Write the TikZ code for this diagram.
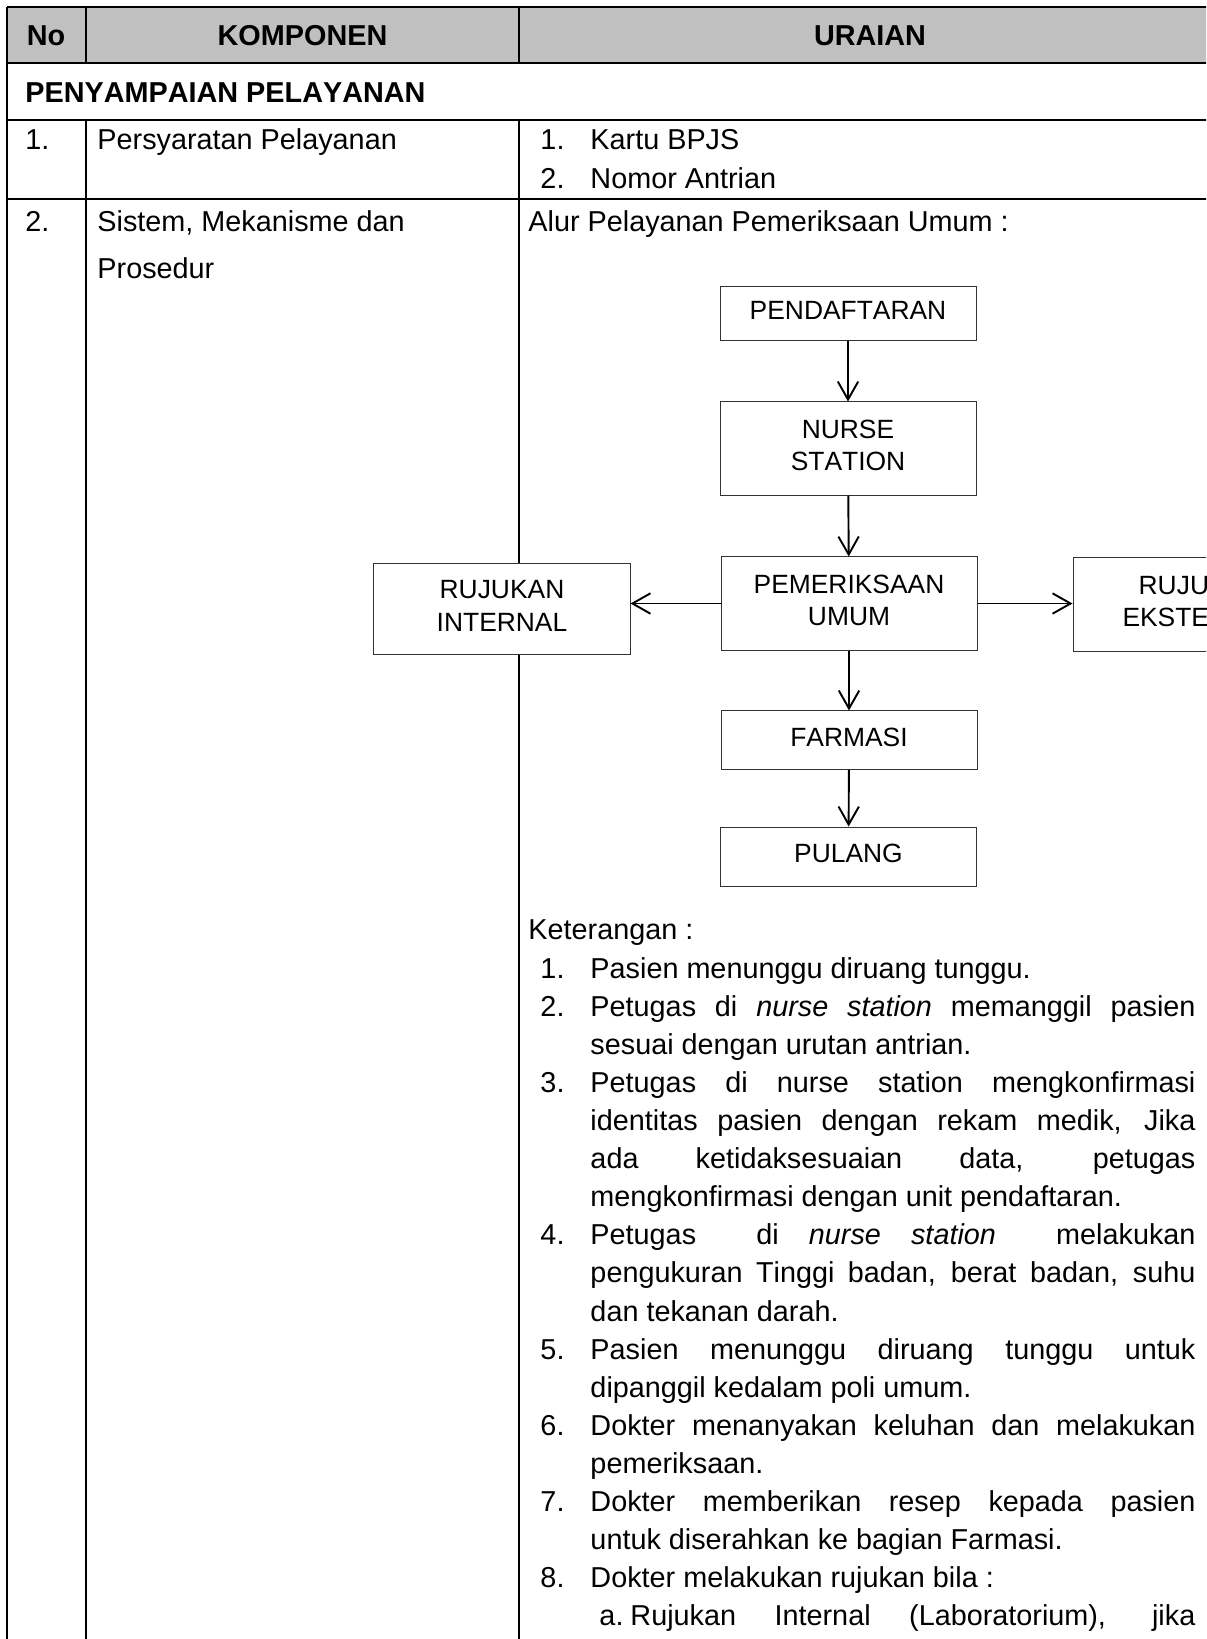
\documentclass[tikz,border=0pt]{standalone}
\usepackage{fontspec}
\setmainfont{Liberation Sans}[Kerning=Off]
\usetikzlibrary{arrows.meta}
\definecolor{hdrgray}{RGB}{192,192,192}
\newcommand{\jline}[2]{\makebox[#1][s]{#2}}
\hbadness=10000

\begin{document}
\begin{tikzpicture}[x=0.4167pt,y=0.4167pt,yscale=-1,xscale=1,
    txt/.style={anchor=base west,inner sep=0pt,font=\fontsize{12}{14}\selectfont},
    hdr/.style={anchor=base,inner sep=0pt,font=\fontsize{12}{14}\selectfont\bfseries},
    flowbox/.style={draw=black!80,line width=0.4pt,fill=white,align=center,inner sep=0pt,
      text depth=2.6pt,minimum width=106.7pt,font=\fontsize{11}{13.5}\selectfont},
    arr/.style={line width=0.8pt,-{Straight Barb[length=7.5pt,width=8.5pt]}},
    tabline/.style={line width=0.8pt}]
    \useasboundingbox (0,0) rectangle (1206,1639);
    \clip (0,0) rectangle (1206,1639);

    %Shape: Rectangle [header fill]
    \fill[hdrgray] (7,7) rectangle (1230,63);
    %Straight Lines [table rows]
    \draw[tabline] (7,7) -- (1230,7);
    \draw[tabline] (7,63) -- (1230,63);
    \draw[tabline] (7,120) -- (1230,120);
    \draw[tabline] (7,199) -- (1230,199);
    %Straight Lines [table columns]
    \draw[tabline] (7,7) -- (7,1650);
    \draw[tabline] (86,7) -- (86,63);
    \draw[tabline] (86,120) -- (86,1650);
    \draw[tabline] (519,7) -- (519,63);
    \draw[tabline] (519,120) -- (519,1650);

    % Text Node
    \node[hdr] (hno) at (46,46) {No};
    % Text Node
    \node[hdr] (hkomp) at (302.5,46) {KOMPONEN};
    % Text Node
    \node[hdr] (huraian) at (870,46) {URAIAN};
    % Text Node
    \node[txt,font=\fontsize{12}{14}\selectfont\bfseries] (sec) at (25,103) {PENYAMPAIAN PELAYANAN};

    % Text Node
    \node[txt] (ronea) at (25,150) {1.};
    % Text Node
    \node[txt] (roneb) at (97,150) {Persyaratan Pelayanan};
    % Text Node
    \node[txt] (ronec) at (540,150) {1.};
    % Text Node
    \node[txt] (roned) at (590,150) {Kartu BPJS};
    % Text Node
    \node[txt] (ronee) at (540,189) {2.};
    % Text Node
    \node[txt] (ronef) at (590,189) {Nomor Antrian};

    % Text Node
    \node[txt] (rtwoa) at (25,232) {2.};
    % Text Node
    \node[txt] (rtwob) at (97,232) {Sistem, Mekanisme dan};
    % Text Node
    \node[txt] (rtwoc) at (97,279) {Prosedur};
    % Text Node
    \node[txt] (rtwod) at (528,232) {Alur Pelayanan Pemeriksaan Umum :};

    %Flowchart boxes
    \node[flowbox,minimum height=22.9pt] (pend) at (848,313.5) {PENDAFTARAN};
    \node[flowbox,minimum height=38.8pt] (nurse) at (848,448.5) {NURSE\\STATION};
    \node[flowbox,minimum height=38.8pt] (pem) at (849,603.5) {PEMERIKSAAN\\UMUM};
    \node[flowbox,minimum height=24.2pt] (farm) at (849,740) {FARMASI};
    \node[flowbox,minimum height=24.6pt] (plg) at (848.5,856.5) {PULANG};
    \node[flowbox,minimum height=38.3pt] (rint) at (502,609) {RUJUKAN\\INTERNAL};
    \node[flowbox,minimum height=38.8pt] (reks) at (1201,604.5) {RUJUKAN\\EKSTERNAL};

    %Straight Lines [arrows]
    \draw[arr] (pend) -- (nurse);
    \draw[arr] (nurse) -- (pem);
    \draw[arr] (pem) -- (farm);
    \draw[arr] (farm) -- (plg);
    \draw[arr] (pem.west) -- (pem.west -| rint.east);
    \draw[arr] (pem.east) -- (pem.east -| reks.west);

    % Text Node
    \node[txt] (ket) at (528,939) {Keterangan :};
    % Text Node
    \node[txt] (na) at (540,978.1) {1.};
    \node[txt] (la) at (590,978.1) {Pasien menunggu diruang tunggu.};
    % Text Node
    \node[txt] (nb) at (540,1016.2) {2.};
    \node[txt] (lb) at (590,1016.2) {\jline{252.1pt}{Petugas di \textit{nurse station} memanggil pasien}};
    \node[txt] (lbb) at (590,1054.3) {sesuai dengan urutan antrian.};
    % Text Node
    \node[txt] (nc) at (540,1092.4) {3.};
    \node[txt] (lc) at (590,1092.4) {\jline{252.1pt}{Petugas di nurse station mengkonfirmasi}};
    \node[txt] (lcb) at (590,1130.5) {\jline{252.1pt}{identitas pasien dengan rekam medik, Jika}};
    \node[txt] (lcc) at (590,1168.6) {\jline{252.1pt}{ada ketidaksesuaian data, petugas}};
    \node[txt] (lcd) at (590,1206.7) {mengkonfirmasi dengan unit pendaftaran.};
    % Text Node
    \node[txt] (nd) at (540,1244.8) {4.};
    \node[txt] (ld) at (590,1244.8) {\jline{252.1pt}{Petugas\ \ di \textit{nurse station}\ \ melakukan}};
    \node[txt] (ldb) at (590,1282.9) {\jline{252.1pt}{pengukuran Tinggi badan, berat badan, suhu}};
    \node[txt] (ldc) at (590,1321) {dan tekanan darah.};
    % Text Node
    \node[txt] (ne) at (540,1359.1) {5.};
    \node[txt] (le) at (590,1359.1) {\jline{252.1pt}{Pasien menunggu diruang tunggu untuk}};
    \node[txt] (leb) at (590,1397.2) {dipanggil kedalam poli umum.};
    % Text Node
    \node[txt] (nf) at (540,1435.3) {6.};
    \node[txt] (lf) at (590,1435.3) {\jline{252.1pt}{Dokter menanyakan keluhan dan melakukan}};
    \node[txt] (lfb) at (590,1473.4) {pemeriksaan.};
    % Text Node
    \node[txt] (ng) at (540,1511.5) {7.};
    \node[txt] (lg) at (590,1511.5) {\jline{252.1pt}{Dokter memberikan resep kepada pasien}};
    \node[txt] (lgb) at (590,1549.6) {untuk diserahkan ke bagian Farmasi.};
    % Text Node
    \node[txt] (nh) at (540,1587.7) {8.};
    \node[txt] (lh) at (590,1587.7) {Dokter melakukan rujukan bila :};
    % Text Node
    \node[txt] (nsa) at (599,1625.8) {a.};
    \node[txt] (lsa) at (630,1625.8) {\jline{235.4pt}{Rujukan Internal (Laboratorium), jika}};

\end{tikzpicture}
\end{document}
